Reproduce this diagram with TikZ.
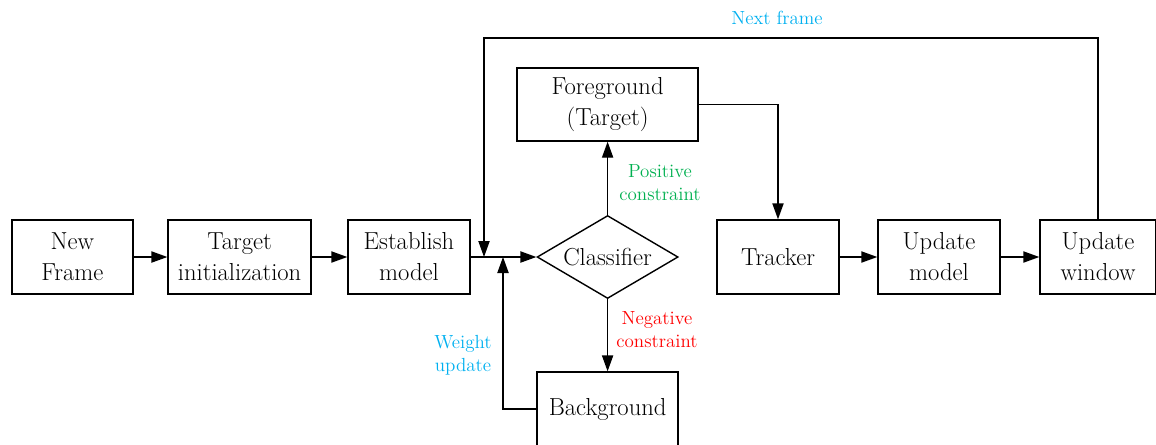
\documentclass[tikz,border=0pt]{standalone}
\usetikzlibrary{arrows.meta, positioning, shapes.geometric, calc}
\definecolor{cblue}{HTML}{00B0F0}
\definecolor{cgreen}{HTML}{00B050}
\definecolor{cred}{HTML}{FF0000}
\tikzset{
  every picture/.style={line width=1pt},
  blockbox/.style={draw, align=center, inner sep=0pt, minimum width=3.05cm, minimum height=1.85cm, font=\fontsize{17.5}{22}\selectfont},
  decision/.style={draw, diamond, aspect=1.7, inner sep=0pt, minimum width=3.525cm, minimum height=2.075cm, font=\fontsize{17.5}{22}\selectfont},
  arrow/.style={-{Triangle[length=0.4cm, width=0.28cm]}},
  tag/.style={align=center, inner sep=0pt, font=\fontsize{13.5}{16.5}\selectfont},
}

\begin{document}
\begin{tikzpicture}
  \useasboundingbox (0,0) rectangle (28.9,-11.1);
  % main row
  \node[blockbox, minimum width=3.025cm] (frame) at (1.81,-6.425) {New\\Frame};
  \node[blockbox, minimum width=3.575cm] (init) at (5.99,-6.425) {Target\\initialization};
  \node[blockbox] (est) at (10.225,-6.425) {Establish\\model};
  \node[decision] (cls) at (15.19,-6.425) {Classifier};
  \node[blockbox] (trk) at (19.45,-6.425) {Tracker};
  \node[blockbox] (upm) at (23.475,-6.425) {Update\\model};
  \node[blockbox, minimum width=2.9cm] (upw) at (27.45,-6.425) {Update\\window};
  % classifier outputs
  \node[blockbox, minimum width=4.525cm, minimum height=1.825cm] (fg) at (15.19,-2.6125) {Foreground\\(Target)};
  \node[blockbox, minimum width=3.525cm] (bg) at (15.19,-10.225) {Background};
  \coordinate (nf) at (12.1,-0.95);
  \coordinate (wu) at (12.575,-10.225);
  % connectors
  \draw[arrow] (frame) -- (init);
  \draw[arrow] (init) -- (est);
  \draw[arrow] (est) -- (cls);
  \draw[arrow] (cls) -- (fg);
  \draw[arrow] (cls) -- (bg);
  \draw[arrow] (fg.east) -| (trk.north);
  \draw[arrow] (trk) -- (upm);
  \draw[arrow] (upm) -- (upw);
  \draw[arrow] (upw.north) |- (nf) -- (nf |- est.east);
  \draw[arrow] (bg.west) -- (wu) -- (wu |- est.east);
  % labels
  \node[tag, text=cblue] (nftag) at (19.425,-0.45) {Next frame};
  \node[tag, text=cgreen] (pos) at (16.5,-4.575) {Positive\\constraint};
  \node[tag, text=cred] (neg) at (16.425,-8.25) {Negative\\constraint};
  \node[tag, text=cblue] (wtag) at (11.575,-8.875) {Weight\\update};
\end{tikzpicture}
\end{document}
